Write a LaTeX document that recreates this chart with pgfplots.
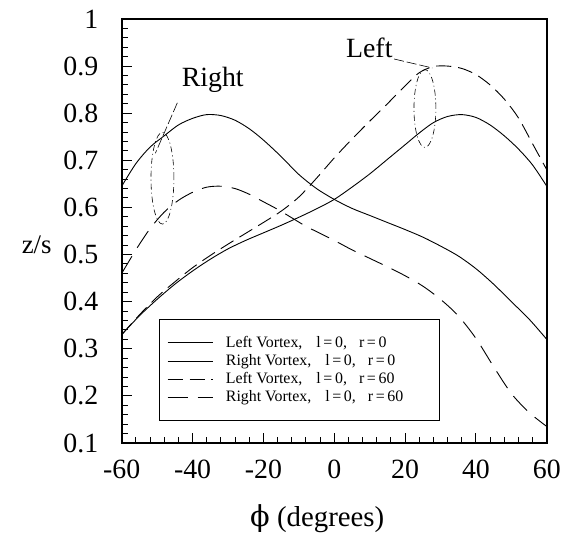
\documentclass[border=0pt]{standalone}
\usepackage{pgfplots}
\pgfplotsset{compat=1.18}
\usepackage{fontspec}
\setmainfont{Liberation Serif}
\newfontfamily\dv{DejaVu Serif}

\begin{document}
\begin{tikzpicture}
\begin{axis}[
  scale only axis,
  width=426bp, height=425bp,
  xmin=-60, xmax=60, ymin=0.1, ymax=1,
  xtick={-60,-40,...,60},
  ytick={0.1,0.2,...,1.0},
  minor x tick num=4,
  minor y tick num=4,
  tick pos=left,
  tick align=inside,
  major tick length=10bp,
  minor tick length=6bp,
  axis line style={line width=2bp},
  every tick/.style={line width=1bp, black},
  /pgf/number format/assume math mode=true,
  ticklabel style={font=\fontsize{28}{30}\selectfont},
  xticklabel style={yshift=-14bp},
  yticklabel style={xshift=-20bp},
  yticklabel={\pgfmathprintnumber[fixed,precision=1]{\tick}},
  clip=false,
  legend cell align=left,
  legend style={
    at={(rel axis cs:0.087,0.292)}, anchor=north west,
    font=\fontsize{16}{17}\selectfont,
    draw=black, line width=0.9bp,
    inner xsep=8bp, inner ysep=15bp,
    row sep=1.5bp, column sep=10bp,
  },
  legend image code/.code={\draw[#1] (0bp,0bp) -- (46bp,0bp);},
]
\addplot[black, line width=0.9bp, smooth, tension=0.5] coordinates {
(-60,0.330) (-55,0.370) (-50,0.405) (-45,0.437) (-40,0.465) (-35,0.490)
(-30,0.512) (-25,0.530) (-20,0.546) (-15,0.562) (-10,0.579) (-5,0.597)
(0,0.617) (5,0.643) (10,0.671) (15,0.702) (20,0.733) (24,0.758)
(28,0.780) (32,0.793) (36,0.797) (40,0.791) (44,0.775) (48,0.752)
(52,0.724) (56,0.690) (60,0.645)};
\addlegendentry{\makebox[204bp][l]{Left Vortex,\hspace{14bp}l\,=\,0,\hspace{12bp}r\,=\,0}}

\addplot[black, line width=0.9bp, smooth, tension=0.5] coordinates {
(-60,0.645) (-56,0.693) (-52,0.728) (-48,0.752) (-44,0.775) (-40,0.789)
(-36,0.797) (-32,0.795) (-28,0.785) (-24,0.767) (-20,0.743) (-15,0.708)
(-10,0.670) (-5,0.640) (0,0.617) (5,0.598) (10,0.583) (15,0.568)
(20,0.553) (25,0.537) (30,0.518) (35,0.497) (40,0.470) (45,0.437)
(50,0.400) (55,0.363) (60,0.320)};
\addlegendentry{Right Vortex,\hspace{14bp}l\,=\,0,\hspace{12bp}r\,=\,0}

\addplot[black, line width=0.9bp, smooth, tension=0.5, dash pattern=on 15bp off 7bp] coordinates {
(-60,0.330) (-55,0.372) (-50,0.410) (-45,0.442) (-40,0.472) (-35,0.498)
(-30,0.522) (-25,0.545) (-20,0.568) (-15,0.592) (-10,0.622) (-5,0.662)
(0,0.705) (5,0.745) (10,0.783) (15,0.820) (20,0.858) (24,0.886)
(28,0.899) (32,0.900) (36,0.895) (40,0.882) (44,0.860) (48,0.830)
(52,0.790) (56,0.735) (60,0.680)};
\addlegendentry{Left Vortex,\hspace{14bp}l\,=\,0,\hspace{12bp}r\,=\,60}

\addplot[black, line width=0.9bp, smooth, tension=0.5, dash pattern=on 20bp off 10bp] coordinates {
(-60,0.460) (-56,0.510) (-52,0.555) (-48,0.590) (-44,0.615) (-40,0.632)
(-36,0.643) (-32,0.645) (-28,0.640) (-24,0.628) (-20,0.612) (-16,0.596)
(-12,0.578) (-8,0.560) (-4,0.545) (0,0.530) (5,0.510) (10,0.492)
(15,0.474) (20,0.455) (25,0.433) (30,0.405) (35,0.370) (40,0.322)
(45,0.262) (50,0.205) (55,0.165) (60,0.135)};
\addlegendentry{Right Vortex,\hspace{14bp}l\,=\,0,\hspace{12bp}r\,=\,60}

% annotations
\draw[line width=0.6bp, dash pattern=on 6bp off 3bp on 1bp off 3bp] (axis cs:-48.5,0.662) ellipse [x radius=11.5bp, y radius=46bp];
\draw[line width=0.6bp, dash pattern=on 6bp off 3bp on 1bp off 3bp] (axis cs:25.6,0.810) ellipse [x radius=11bp, y radius=39bp];
\draw[line width=0.6bp, dash pattern=on 10bp off 3bp] (axis cs:-44.3,0.822) -- (axis cs:-50.5,0.715);
\draw[line width=0.6bp, dash pattern=on 10bp off 3bp] (axis cs:16.9,0.915) -- (axis cs:27.7,0.896);
\node[font=\fontsize{28}{30}\selectfont] at (axis cs:-34.3,0.871) {Right};
\node[font=\fontsize{28}{30}\selectfont] at (axis cs:9.9,0.938) {Left};
\node[font=\fontsize{27}{30}\selectfont] at (rel axis cs:-0.2,0.468) {z/s};
\node[font=\fontsize{29}{30}\selectfont] at (rel axis cs:0.46,-0.178) {{\dv ϕ} (degrees)};
\end{axis}
\path (rel axis cs:0,0) ++(-122bp,-95bp) rectangle ++(564bp,539bp);
\end{tikzpicture}
\end{document}
